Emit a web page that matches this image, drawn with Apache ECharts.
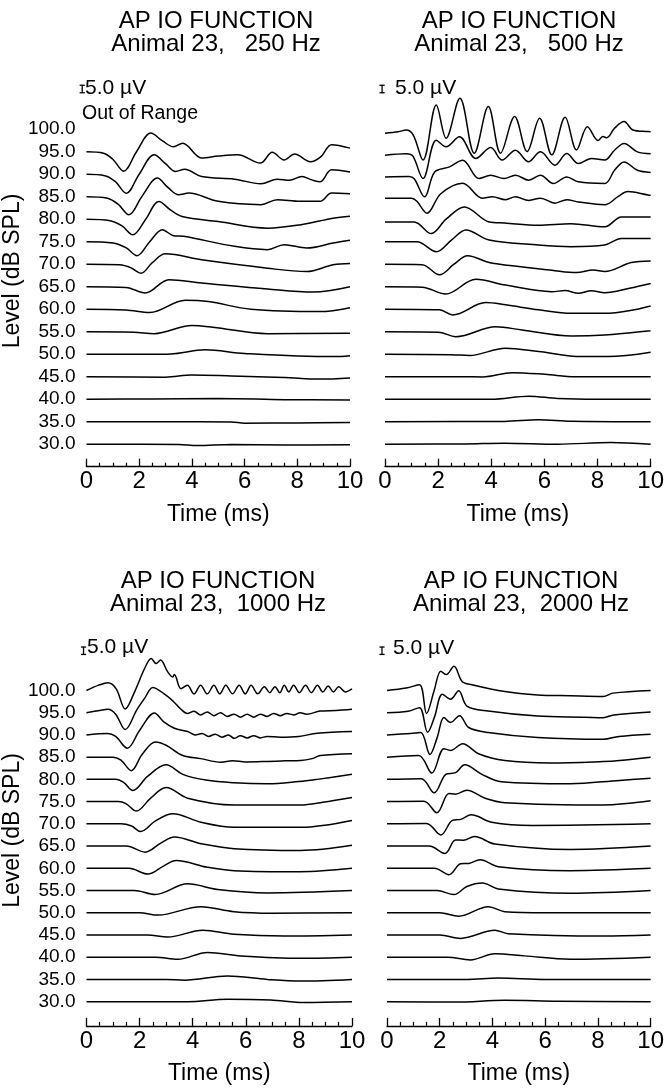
<!DOCTYPE html>
<html><head><meta charset="utf-8">
<script src="https://cdn.jsdelivr.net/npm/echarts@6/dist/echarts.min.js"></script>
<style>html,body{margin:0;padding:0;background:#fff}#c{width:667px;height:1092px}</style>
</head><body><div id="c"></div>
<script>
// ---------------- data (time in ms, amplitude in microvolts) ----------------
const levels = [100, 95, 90, 85, 80, 75, 70, 65, 60, 55, 50, 45, 40, 35, 30];
const timeRange = [0, 10];
const scaleBarUV = 5.0;
const panelTitles = ['AP IO FUNCTION\nAnimal 23,   250 Hz', 'AP IO FUNCTION\nAnimal 23,   500 Hz',
                     'AP IO FUNCTION\nAnimal 23,  1000 Hz', 'AP IO FUNCTION\nAnimal 23,  2000 Hz'];

// 250 Hz (100 dB trace out of range)
const wave250 = [
  null,
  [[0,0],[0.65,-1],[1.0,-5],[1.41,-13],[1.9,0],[2.44,12.4],[2.9,7],[3.3,3.3],[3.65,5.6],[4.37,-4.2],[5.0,-2.9],[5.74,-2],[6.6,-7.6],[7.05,-0.4],[7.5,-5.5],[7.9,-1.5],[8.5,-6.7],[8.9,-3.3],[9.3,4.7],[10,2.4]],
  [[0,0],[0.7,-1],[1.1,-5],[1.51,-12.7],[2.0,0],[2.57,12.9],[3.0,7],[3.38,1.8],[3.73,3.3],[4.37,-1.6],[5.62,-3.3],[6.62,-6.4],[7.24,-3.3],[7.7,-4],[8.17,-1.6],[8.55,-3.8],[8.86,-5.1],[9.3,2.9],[10,1.5]],
  [[0,0],[0.8,-1],[1.2,-5],[1.61,-12],[2.1,0],[2.69,12.4],[3.1,6],[3.5,1.3],[3.88,2.4],[5.0,-3.1],[6.62,-5.3],[7.24,-2],[8.1,-3.1],[8.86,-3.1],[9.3,2.4],[10,2]],
  [[0,0],[0.9,-1],[1.35,-4.5],[1.76,-10.4],[2.25,0],[2.75,11.8],[3.2,6],[3.63,1.8],[5.0,-1.6],[6.87,-6],[8.1,-3.8],[9.36,0.7],[10,2]],
  [[0,0],[1.0,-0.8],[1.5,-4],[1.92,-9.3],[2.4,0],[2.88,8],[3.3,4],[3.69,3.6],[5.62,-3.1],[6.87,-5.3],[7.5,-2],[8.36,-4.2],[9.36,-0.9],[10,1]],
  [[0,0],[1.26,-0.4],[1.7,-2.5],[2.07,-6],[2.5,1],[3.0,6.9],[4.37,2.9],[6.87,-2.7],[8.36,-4.9],[9.36,-0.4],[10,0.5]],
  [[0,0],[1.5,-0.5],[2.23,-4.2],[3.13,4.7],[4.37,2.4],[6.87,-1.6],[8.6,-3.6],[10,0]],
  [[0,0],[1.5,-0.5],[2.4,-2.2],[3.75,6],[4.62,5.1],[6.24,0],[8.86,-1.6],[10,1]],
  [[0,0],[1.8,-0.3],[2.57,-1.3],[4.0,4.2],[4.8,3],[6.87,-1.3],[10,-1]],
  [[0,0],[2.5,0],[3.2,0.2],[4.5,2.9],[6,0.5],[9.36,-1.6],[10,-1]],
  [[0,0],[3.0,-0.3],[4.0,1.1],[5.5,0.5],[7.5,-0.5],[8.86,-1.6],[10,-0.8]],
  [[0,0],[2.5,0.2],[5.0,0.5],[7.5,-0.3],[10,-0.5]],
  [[0,0],[3.0,0],[5.5,-0.2],[6.0,-1],[8,-0.8],[10,-0.5]],
  [[0,0],[3.5,-0.2],[4.2,-0.9],[5.5,-0.2],[7.5,-0.5],[10,-0.4]]
];

// 500 Hz
const wave500 = [
  [[0,-2.7],[0.5,-1.7],[0.8,-0.5],[1.06,-3.8],[1.43,-20.5],[1.93,16.2],[2.3,-6],[2.82,20.6],[3.36,-16],[3.89,15.1],[4.35,-16],[4.88,8.4],[5.35,-14.9],[5.82,7.3],[6.28,-17.1],[6.78,8],[7.21,-13.8],[7.62,1.7],[8.02,-7.6],[8.2,-4.9],[8.35,-5.7],[8.64,0.6],[9.0,5.1],[9.33,-0.5],[9.9,-1.6],[10,-1.7]],
  [[0,-2.3],[0.8,-1.3],[1.05,-3],[1.43,-17.9],[1.93,7.7],[2.3,3.3],[2.8,9.9],[3.42,-4.5],[3.98,2.8],[4.41,-5.6],[4.91,1],[5.4,-6.7],[5.85,-0.1],[6.4,-9],[6.84,-1.2],[7.28,-7.9],[7.77,-4.5],[8.27,-5.6],[8.64,1],[9.0,5.5],[9.5,-0.1],[10,-1.3]],
  [[0,-1.8],[0.9,-1.5],[1.1,-3],[1.49,-15.1],[1.87,1.5],[2.43,4.9],[2.92,9.3],[3.54,-2.9],[3.98,-0.7],[4.48,-2.9],[4.91,-0.7],[5.41,-4],[5.85,-0.7],[6.34,-6.2],[6.84,-1.8],[7.28,-5.1],[8.27,-6.2],[8.64,2.6],[9.0,8.2],[9.5,2.6],[10,1.2]],
  [[0,-1],[1.0,-1],[1.2,-3],[1.58,-11],[2.1,2],[2.92,9],[3.67,-1],[4.04,0],[4.54,-2],[4.91,0],[5.41,-2.5],[5.85,-1],[6.4,-4.3],[6.84,-2],[7.28,-3.5],[8.27,-5.4],[8.77,0],[9.14,3.4],[9.9,1.2],[10,1]],
  [[0,-1.8],[1.1,-1.8],[1.74,-9.6],[2.3,0],[2.99,8.2],[3.92,-1.8],[4.5,-2.5],[5.78,-4],[7.0,-3],[8.27,-5.1],[8.9,1.5],[9.9,1.5],[10,1.5]],
  [[0,0],[1.2,0],[1.93,-6.7],[2.5,1],[3.05,7.8],[3.92,1.1],[5.78,-2.2],[7.0,-3.3],[8.27,-2.2],[8.9,2.2],[9.9,2.2],[10,2.2]],
  [[0,0],[1.4,-0.3],[2.05,-7.1],[2.6,0],[3.11,5.6],[3.92,1.1],[4.79,-1.1],[6.28,-4],[7.21,-5.6],[7.84,-3.8],[8.27,-4.9],[9.27,1.1],[10,2.2]],
  [[0,0],[1.4,-0.3],[2.28,-4.9],[3.42,4.9],[4.54,1.1],[6.28,-3.3],[6.78,-2.6],[7.28,-4.4],[7.77,-2.7],[8.27,-4],[9.2,-1],[10,2.2]],
  [[0,0],[2.05,-0.4],[2.55,-3.8],[3.79,4.4],[4.54,2.9],[5.78,-0.4],[7.03,-2.7],[8.27,-2.7],[9.5,0],[10,2.2]],
  [[0,0],[2.0,-0.3],[2.67,-3.3],[4.17,3.3],[5.16,1.1],[7.03,-2.9],[8.27,-2.2],[10,0.7]],
  [[0,0],[2.5,-0.3],[3.17,-0.9],[4.54,4],[5.78,1.8],[7.4,-1.6],[8.4,-1.6],[10,1.3]],
  [[0,0],[3.0,0],[3.67,-0.2],[4.79,2.7],[6.03,1.6],[7.15,0],[10,0]],
  [[0,0],[4.0,0],[5.41,2],[6.5,0.5],[8,0],[10,0]],
  [[0,0],[4.5,0.2],[5.78,1.3],[7,0.3],[10,0]],
  [[0,0],[3.0,0.2],[4.5,0.7],[6.5,0],[8.5,1.1],[10,0]]
];

// 1000 Hz
const wave1000 = [
  [[0,0],[0.44,3.4],[0.81,5.2],[1.12,1.1],[1.46,-12.5],[1.81,-1.1],[2.19,14.8],[2.44,21.6],[2.62,18.2],[2.79,20.5],[3.06,12.5],[3.25,9.1],[3.31,10.7],[3.56,1.1],[3.8,3.5],[4.05,-2.3],[4.3,3.5],[4.55,-2.3],[4.8,3.5],[5.02,-2.3],[5.25,3.5],[5.5,-2.3],[5.75,3.5],[5.98,-2.3],[6.2,3.5],[6.45,-2.3],[6.7,2.5],[6.9,-1.5],[7.1,2.5],[7.28,-1.5],[7.45,3.5],[7.62,-1],[7.8,3.5],[8.02,-1.5],[8.25,3.5],[8.47,-1.5],[8.7,3.5],[8.9,-1],[9.1,3],[9.3,-1],[9.5,2.5],[9.75,-1],[10,1]],
  [[0,0],[0.5,1.5],[0.81,2.3],[1.1,-1],[1.46,-11.4],[1.9,2],[2.2,10],[2.5,17],[2.94,12.5],[3.25,8],[3.56,2.3],[3.8,-0.5],[4.05,1],[4.3,-1.5],[4.55,0.5],[4.8,-2],[5.05,0],[5.3,-2.5],[5.56,-1],[5.8,-3],[6.05,-1],[6.3,-3],[6.55,-1],[6.8,-2.5],[7.05,-0.5],[7.3,-2],[7.55,-0.5],[7.8,-1.5],[8.05,0],[8.3,-1],[8.8,1.1],[9.4,1.5],[10,2.3]],
  [[0,0],[0.8,1],[1.1,-1],[1.54,-9],[2.0,3],[2.56,14.8],[2.9,9],[3.31,4.5],[3.81,2.3],[4.1,0],[4.35,1],[4.6,-1],[4.85,0.5],[5.1,-1.5],[5.35,0],[5.56,-2.3],[5.8,-0.5],[6.05,-2],[6.3,-0.5],[6.55,-2],[6.8,-1],[7.3,-1.5],[8,-1],[8.69,1.1],[10,2.3]],
  [[0,0],[1.0,0],[1.3,-2],[1.69,-9.1],[2.1,2],[2.6,10.2],[3.0,8],[3.63,1.1],[4.3,-1],[5.06,-3.4],[5.5,-2.5],[6,-3.2],[6.81,-2.9],[7.5,-2.5],[8.06,-2.3],[8.5,-1],[8.81,1.1],[10,2.3]],
  [[0,0],[1.1,0],[1.4,-2],[1.75,-7.5],[2.3,2],[3.0,9.8],[3.63,3.4],[4.5,-0.5],[5.56,-2.3],[6.81,-3],[8.0,-1.5],[8.69,0],[10,3.4]],
  [[0,0],[1.2,0],[1.5,-1.5],[1.88,-6.4],[2.4,2],[3.0,9.5],[3.81,2.3],[5.56,-2.3],[8.06,-2.3],[8.9,-0.5],[10,2.7]],
  [[0,0],[1.3,0],[1.7,-1.5],[2.04,-5.2],[2.6,2],[3.25,6.8],[4.31,1.1],[5.56,-2.3],[8.06,-2.3],[10,2.3]],
  [[0,0],[1.5,0],[2.21,-4.1],[2.8,2],[3.31,6.1],[4.31,1.6],[5.56,-1.8],[8.06,-3],[10,0.5]],
  [[0,0],[1.6,0],[2.31,-3.9],[2.9,1.5],[3.38,5.2],[4.56,0.7],[5.56,-1.6],[8.06,-2.3],[10,0]],
  [[0,0],[1.8,0],[2.59,-2.7],[3.81,4.5],[4.94,0.7],[6.81,-1.6],[10,0]],
  [[0,0],[2.0,0],[2.69,-1.6],[4.31,4.1],[5.56,0.7],[7,-0.3],[10,0]],
  [[0,0],[2.3,0],[3.06,-1.4],[4.38,3.2],[5.56,0.5],[7.44,-0.7],[10,0]],
  [[0,0],[2.6,0],[3.44,-1.4],[4.56,3.2],[5.81,0.9],[8.06,-0.7],[10,0]],
  [[0,0],[3.0,0],[3.69,-0.5],[5.31,2.3],[6.81,0],[8.06,-1.1],[10,0]],
  [[0,0],[3.0,0],[3.81,0],[5.31,1.6],[6.94,1.1],[8.19,-0.5],[10,0]]
];

// 2000 Hz
const wave2000 = [
  [[0,0],[0.73,1.6],[1.23,3.9],[1.5,-15.5],[1.79,0],[2.04,13],[2.25,10.7],[2.54,16.4],[2.85,6.1],[3.22,3.9],[4.47,-0.7],[5.71,-3],[6.95,-3.6],[8.2,-4.1],[8.57,-1.8],[10,0]],
  [[0,0],[0.8,1],[1.23,3.4],[1.54,-13.2],[1.8,-3],[2.1,12.5],[2.41,9.1],[2.72,14.8],[3.03,4.5],[3.84,1.1],[5.71,-2.3],[7.5,-3],[8.2,-3.4],[8.6,-1.5],[10,0.5]],
  [[0,0],[0.9,1],[1.28,1.6],[1.63,-13.2],[1.9,-2],[2.16,11.8],[2.41,8.4],[2.75,13],[3.1,5],[3.84,1.6],[5.71,-1.8],[8.2,-3],[8.8,-1],[10,0.5]],
  [[0,0],[1.2,1.1],[1.7,-10.7],[2.16,5.7],[2.41,4.5],[2.87,9.1],[3.47,2.3],[4.47,-2.3],[6.21,-3.9],[8.2,-3],[8.82,-2.3],[10,0]],
  [[0,0],[1.3,0.5],[1.79,-9.1],[2.23,3.4],[2.6,4.5],[2.95,9.8],[3.6,3.4],[4.34,-1.6],[6.95,-3],[8.82,-0.7],[10,0.7]],
  [[0,0],[1.4,0.3],[1.89,-7.5],[2.35,5.5],[2.6,5],[3.03,7.7],[3.72,2.3],[4.47,-0.7],[8.2,-2.3],[10,0.5]],
  [[0,0],[1.5,0.3],[2.04,-7.5],[2.48,2.3],[2.8,3],[3.2,6.1],[3.97,1.1],[5.5,-1.1],[10,0]],
  [[0,0],[1.6,0],[2.2,-5],[2.6,4.1],[2.9,4],[3.32,6.4],[4.09,1.4],[6.95,-2.3],[10,0]],
  [[0,0],[1.8,0],[2.35,-4.3],[2.79,3],[3.1,3.3],[3.53,5.7],[4.22,1.1],[6.95,-1.6],[10,0]],
  [[0,0],[1.9,0],[2.54,-2.7],[3.03,2.7],[3.62,5],[4.22,1.1],[6.95,-1.8],[10,0]],
  [[0,0],[2.0,0],[2.72,-2.3],[3.84,4.1],[4.47,0.7],[6,0],[10,0]],
  [[0,0],[2.0,0],[2.79,-2.3],[4.09,3.2],[4.59,0.9],[8.2,-0.7],[10,0]],
  [[0,0],[2.3,0],[3.16,-1.8],[4.09,2.3],[5.21,0.9],[6.95,-1.4],[10,0]],
  [[0,0],[3.0,0],[4.22,0.9],[6,0],[10,0]],
  [[0,0],[2.6,-0.3],[4.47,0.9],[6.5,0.3],[10,0]]
];

// ---------------- layout / style ----------------
const FONT = '"Liberation Sans", Arial, Helvetica, sans-serif';
const GAIN = 1 / 3;          // dB-axis units per microvolt of trace amplitude
const Y_MIN = 25, Y_MAX = 112;
const SCALE_BASE = 108.1;    // level-axis position of the scale bar foot

const panels = [
  { waves: wave250,  left: 83,  width: 267, top: 75.2,  height: 391.5, yLab: true,  axisOff: 0, tx: 216, ty: 9.5,  barT: -0.16, uvX: 85,  uvY: 88,  out: true },
  { waves: wave500,  left: 385, width: 268, top: 75.2,  height: 391.5, yLab: false, axisOff: 0, tx: 519, ty: 9.5,  barT: -0.11, uvX: 395, uvY: 88 },
  { waves: wave1000, left: 85,  width: 267, top: 637.1, height: 386.8, yLab: true,  axisOff: 2, tx: 218, ty: 569.5, barT: -0.11, uvX: 87,  uvY: 647 },
  { waves: wave2000, left: 387, width: 268, top: 637.1, height: 386.8, yLab: false, axisOff: 2, tx: 521, ty: 569.5, barT: -0.19, uvX: 393, uvY: 648 }
];

function renderScaleBar(params, api) {
  const p0 = api.coord([api.value(0), api.value(1)]);
  const p1 = api.coord([api.value(0), api.value(2)]);
  const hw = 2.6, st = { stroke: '#000', lineWidth: 1.3 };
  return {
    type: 'group', children: [
      { type: 'line', shape: { x1: p0[0], y1: p0[1], x2: p1[0], y2: p1[1] }, style: st },
      { type: 'line', shape: { x1: p0[0] - hw, y1: p0[1], x2: p0[0] + hw, y2: p0[1] }, style: st },
      { type: 'line', shape: { x1: p1[0] - hw, y1: p1[1], x2: p1[0] + hw, y2: p1[1] }, style: st }
    ]
  };
}

const grid = [], xAxis = [], yAxis = [], series = [], title = [], graphic = [];
panels.forEach((p, i) => {
  grid.push({ left: p.left, top: p.top, width: p.width, height: p.height });
  title.push({
    text: panelTitles[i], left: p.tx, top: p.ty, textAlign: 'center', padding: 0,
    textStyle: { fontFamily: FONT, fontSize: 24, fontWeight: 'normal', color: '#000', lineHeight: 23.5 }
  });
  xAxis.push({
    gridIndex: i, type: 'value', min: timeRange[0], max: timeRange[1], interval: 2, offset: p.axisOff,
    name: 'Time (ms)', nameLocation: 'middle', nameGap: 36,
    nameTextStyle: { fontFamily: FONT, fontSize: 23, color: '#000' },
    axisLine: { show: true, onZero: false, lineStyle: { color: '#000', width: 1.3 } },
    axisTick: { show: true, inside: true, length: 8, lineStyle: { color: '#000', width: 1.3 } },
    minorTick: { show: true, splitNumber: 4, length: 4, lineStyle: { color: '#000', width: 1.2 } },
    axisLabel: { fontFamily: FONT, fontSize: 24, color: '#000', margin: 3 },
    splitLine: { show: false }, minorSplitLine: { show: false }
  });
  yAxis.push({
    gridIndex: i, type: 'value', min: Y_MIN, max: Y_MAX, interval: 5, show: p.yLab,
    name: p.yLab ? 'Level (dB SPL)' : '', nameLocation: 'middle', nameGap: 48,
    nameTextStyle: { fontFamily: FONT, fontSize: 23, color: '#000' },
    axisLine: { show: false }, axisTick: { show: false }, splitLine: { show: false },
    axisLabel: {
      fontFamily: FONT, fontSize: 19, color: '#000', margin: 11,
      formatter: v => (levels.indexOf(v) >= 0 ? v.toFixed(1) : '')
    }
  });
  p.waves.forEach((tr, j) => {
    if (!tr) return;
    const lvl = levels[j];
    series.push({
      type: 'line', xAxisIndex: i, yAxisIndex: i, showSymbol: false, symbol: 'none',
      smooth: 0.35, clip: false, silent: true,
      lineStyle: { color: '#000', width: 1.5 },
      data: tr.map(([t, uv]) => [t, lvl + uv * GAIN])
    });
  });
  // scale bar (5 µV), positioned in axis units
  series.push({
    type: 'custom', xAxisIndex: i, yAxisIndex: i, clip: false, silent: true,
    renderItem: renderScaleBar,
    encode: { x: 0, y: [1, 2] },
    data: [[p.barT, SCALE_BASE, SCALE_BASE + scaleBarUV * GAIN]]
  });
  graphic.push({
    type: 'text', x: p.uvX, y: p.uvY,
    style: { text: scaleBarUV.toFixed(1) + ' \u00b5V', fill: '#000', font: '21px ' + FONT, verticalAlign: 'middle', align: 'left' }
  });
  if (p.out) {
    graphic.push({
      type: 'text', x: 82, y: 113.5,
      style: { text: 'Out of Range', fill: '#000', font: '19.5px ' + FONT, verticalAlign: 'middle', align: 'left' }
    });
  }
});

const chart = echarts.init(document.getElementById('c'), null, { renderer: 'canvas' });
chart.setOption({
  backgroundColor: '#fff', animation: false,
  title, grid, xAxis, yAxis, series, graphic
});
</script>
</body></html>
